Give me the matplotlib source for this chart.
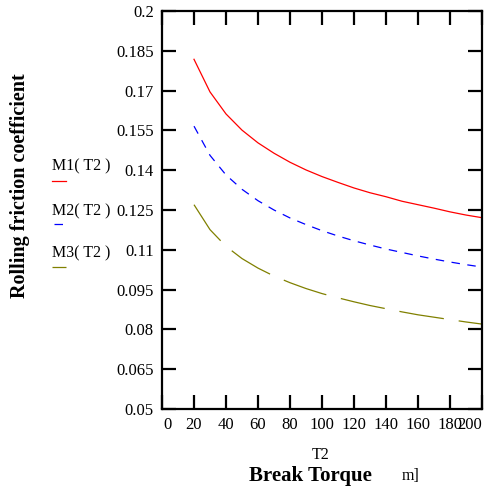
import matplotlib
matplotlib.use("Agg")
import matplotlib.pyplot as plt
import matplotlib.transforms as mtransforms
from matplotlib.lines import Line2D

plt.rcParams['font.family'] = ['Liberation Serif', 'DejaVu Serif']

T2 = [20, 30, 40, 50, 60, 70, 80, 90, 100, 110, 120, 130, 140, 150, 160, 170, 180, 190, 200]
M1 = [0.1818, 0.1695, 0.1612, 0.1551, 0.1503, 0.1464, 0.1430, 0.1401, 0.1376, 0.1354,
      0.1333, 0.1315, 0.1300, 0.1283, 0.1270, 0.1257, 0.1243, 0.1231, 0.1221]
M2 = [0.1566, 0.1456, 0.1382, 0.1328, 0.1285, 0.1250, 0.1220, 0.1195, 0.1172, 0.1152,
      0.1134, 0.1118, 0.1103, 0.1090, 0.1077, 0.1065, 0.1054, 0.1044, 0.1035]
M3 = [0.1270, 0.1176, 0.1113, 0.1067, 0.1031, 0.1001, 0.0976, 0.0954, 0.0935, 0.0919,
      0.0904, 0.0890, 0.0878, 0.0866, 0.0855, 0.0846, 0.0837, 0.0828, 0.0820]
xticks = [0, 20, 40, 60, 80, 100, 120, 140, 160, 180, 200]
yticks = [0.05, 0.065, 0.08, 0.095, 0.11, 0.125, 0.14, 0.155, 0.17, 0.185, 0.2]
ytick_labels = ['0.05', '0.065', '0.08', '0.095', '0.11', '0.125', '0.14', '0.155', '0.17', '0.185', '0.2']
names = ['M1( T2 )', 'M2( T2 )', 'M3( T2 )']
colors = ['#ff0000', '#0000ff', '#808000']

W, H = 488, 490
fig = plt.figure(figsize=(W / 100, H / 100), dpi=100)
ax = fig.add_axes([162 / W, 1 - 409 / H, (482 - 162) / W, (409 - 11) / H])

dash2 = (0, (6.8, 6))
dash3 = (0, (36, 12))
ax.plot(T2, M1, color=colors[0], lw=0.9, solid_joinstyle='round')
ax.plot(T2, M2, color=colors[1], lw=0.9, linestyle=dash2)
ax.plot(T2, M3, color=colors[2], lw=0.9, linestyle=dash3)

ax.set_xlim(0, 200)
ax.set_ylim(0.05, 0.2)
ax.set_xticks(xticks)
ax.set_xticklabels([str(v) for v in xticks])
ax.set_yticks(yticks)
ax.set_yticklabels(ytick_labels)
ax.tick_params(direction='in', length=10, width=1.6, top=True, right=True,
               labelsize=12, pad=6)
for s in ax.spines.values():
    s.set_linewidth(1.6)

# shift first and last x tick labels inward like the reference
labels = ax.get_xticklabels()
labels[0].set_transform(labels[0].get_transform() +
                        mtransforms.ScaledTranslation(5 / 100, 0, fig.dpi_scale_trans))
labels[-1].set_transform(labels[-1].get_transform() +
                         mtransforms.ScaledTranslation(-12 / 100, 0, fig.dpi_scale_trans))

# legend-like labels on left
ys_text = [166, 211, 253]
ys_line = [181, 224, 267]
x_line = [(52, 66), (54, 66), (52, 66)]
styles = ['-', dash2, dash3]
for name, c, yt, yl, xl, st in zip(names, colors, ys_text, ys_line, x_line, styles):
    fig.text(52 / W, 1 - yt / H, name, fontsize=11.5, ha='left', va='center')
    fig.add_artist(Line2D([xl[0] / W, xl[1] / W], [1 - yl / H, 1 - yl / H],
                          color=c, lw=0.9, linestyle=st, transform=fig.transFigure))

fig.text(20.5 / W, 1 - 186 / H, 'Rolling friction coefficient', rotation=90,
         fontsize=14.5, fontweight='bold', ha='center', va='center')
fig.text(321 / W, 1 - 455 / H, 'T2', fontsize=11.5, ha='center', va='center')
fig.text(310 / W, 1 - 476 / H, 'Break Torque', fontsize=15, fontweight='bold',
         ha='center', va='center')
fig.text(411 / W, 1 - 476 / H, 'm]', fontsize=11.5, ha='center', va='center')

fig.savefig('out.png', dpi=100)
